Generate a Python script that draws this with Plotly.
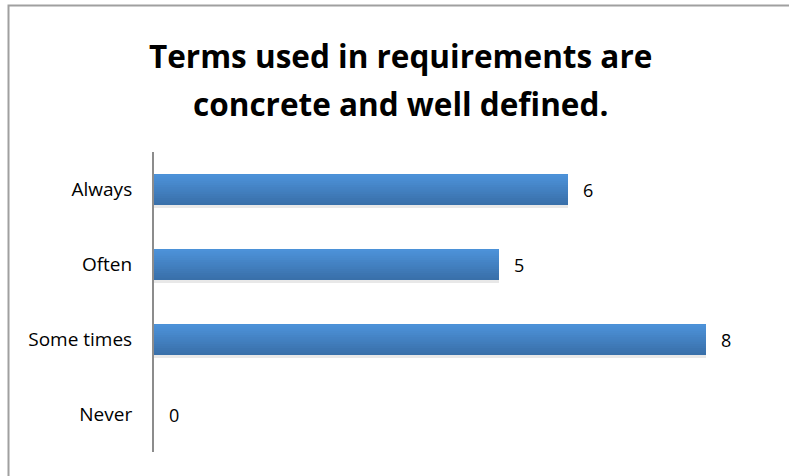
import plotly.graph_objects as go

# Survey answers, bottom to top on the category axis
categories = ["Never", "Some times", "Often", "Always"]
counts = [0, 8, 5, 6]

title_lines = ["Terms used in requirements are", "concrete and well defined."]

W, H = 789, 476
ML, MR, MT, MB = 154, 14, 152, 24
PW, PH = W - ML - MR, H - MT - MB

BAR_W = 0.41
N_STRIPS = 14
top_rgb = (77, 146, 217)
bot_rgb = (57, 112, 170)

fig = go.Figure()

# soft drop shadow under each bar
fig.add_trace(go.Bar(
    x=counts, y=categories, orientation="h",
    width=BAR_W, offset=-BAR_W / 2 - 0.04,
    marker=dict(color="rgba(0,0,0,0.09)", line=dict(width=0)),
    hoverinfo="skip", showlegend=False,
))

# vertical gradient: each layer starts higher up and covers the one below
for i in range(N_STRIPS):
    t = i / (N_STRIPS - 1)  # 0 = bottom layer, 1 = top layer
    rgb = tuple(round(b + (tp - b) * t) for tp, b in zip(top_rgb, bot_rgb))
    start = -BAR_W / 2 + i * BAR_W / N_STRIPS
    fig.add_trace(go.Bar(
        x=counts, y=categories, orientation="h",
        width=BAR_W / 2 - start,
        offset=start,
        marker=dict(color="rgb(%d,%d,%d)" % rgb, line=dict(width=0)),
        hoverinfo="skip", showlegend=False,
    ))

# value labels to the right of each bar
for c, v in zip(categories, counts):
    fig.add_annotation(
        x=v, y=c, text=str(v), showarrow=False,
        xanchor="left", yanchor="middle", xshift=13,
        font=dict(family="Open Sans", size=18, color="#000"),
    )

# two-line bold heading, centred at x = 400 px
for k, line in enumerate(title_lines):
    fig.add_annotation(
        x=(400 - ML) / PW, xref="paper", y=1 + (MT - (55 + 48 * k)) / PH, yref="paper",
        text=line, showarrow=False, xanchor="center", yanchor="middle",
        font=dict(family="Open Sans", size=31.5, color="#000", weight="bold"),
    )

# outer chart frame
fig.add_shape(
    type="rect", xref="paper", yref="paper",
    x0=(8.5 - ML) / PW, x1=1.2,
    y0=-0.3, y1=1 + (MT - 5.5) / PH,
    line=dict(color="#a0a0a0", width=2), fillcolor="rgba(0,0,0,0)",
    layer="below",
)

fig.update_layout(
    width=W, height=H,
    margin=dict(l=ML, r=MR, t=MT, b=MB),
    paper_bgcolor="white", plot_bgcolor="white",
    barmode="overlay",
    showlegend=False,
    xaxis=dict(range=[0, 9], visible=False, fixedrange=True),
    yaxis=dict(
        categoryorder="array", categoryarray=categories,
        showline=True, linecolor="#8c8c8c", linewidth=2,
        showgrid=False, zeroline=False, ticks="",
        ticklabelstandoff=16,
        tickfont=dict(family="Open Sans", size=19, color="#000"),
    ),
)

fig.write_html("out.html")
